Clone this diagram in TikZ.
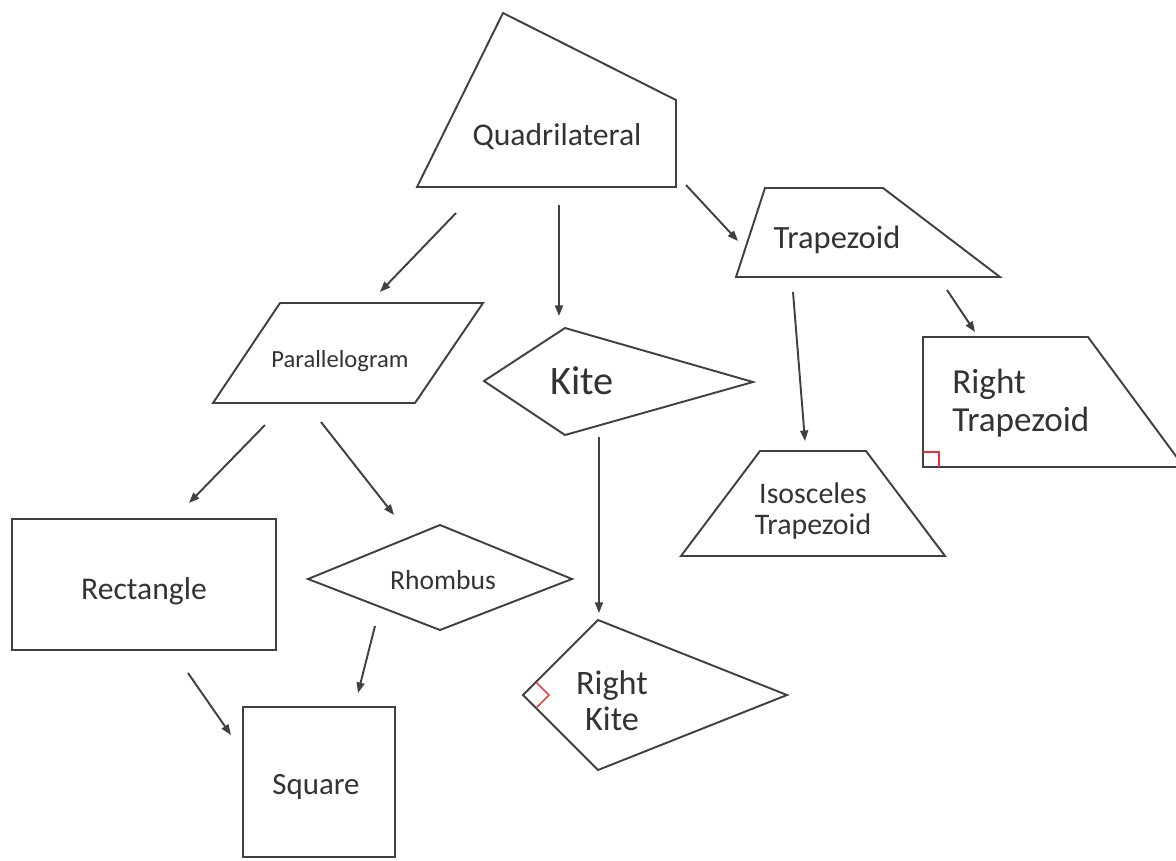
\documentclass[tikz,border=0pt]{standalone}
\usepackage{fontspec}
\setmainfont{Carlito}
\usetikzlibrary{arrows.meta}
\definecolor{shapegray}{HTML}{404040}
\definecolor{textgray}{HTML}{333333}
\definecolor{anglered}{HTML}{F03030}
\begin{document}
\begin{tikzpicture}[x=0.02cm,y=-0.02cm,
  figure/.style={draw=shapegray, line width=1.1pt, line join=miter},
  thickfig/.style={draw=shapegray, line width=1.5pt},
  link/.style={draw=shapegray, line width=1.1pt, -{Triangle[length=6pt,width=4.5pt]}},
  lbl/.style={text=textgray, inner sep=0pt, align=center},
  rightangle/.style={draw=anglered, line width=0.8pt}]
\useasboundingbox (0,0) rectangle (1176,860);
% shapes
\draw[figure] (503,13) -- (676,100) -- (676,187) -- (417,187) -- cycle;
\draw[figure] (765,188) -- (883,188) -- (1000,277) -- (736,277) -- cycle;
\draw[figure] (923,337) -- (1088,337) -- (1184,467) -- (923,467) -- cycle;
\draw[rightangle] (923,452) -- (939,452) -- (939,467);
\draw[figure] (280,303) -- (483,303) -- (415,403) -- (213,403) -- cycle;
\draw[figure] (484,381) -- (565,328) -- (753,382) -- (565,435) -- cycle;
\draw[thickfig] (12,519) rectangle (276,650);
\draw[figure] (308,579) -- (440,525) -- (572,579) -- (440,630) -- cycle;
\draw[figure] (598,620) -- (787,695) -- (598,770) -- (523,695) -- cycle;
\draw[rightangle] (536,682) -- (549,695) -- (536,708);
\draw[figure] (760,451) -- (866,451) -- (945,556) -- (681,556) -- cycle;
\draw[figure] (243,707) rectangle (395,857);
% labels
\node[lbl, font=\fontsize{18}{21}\selectfont] (quad) at (557,137) {Quadrilateral};
\node[lbl, font=\fontsize{18.5}{21}\selectfont] (trap) at (837,240) {Trapezoid};
\node[lbl, font=\fontsize{20}{21.5}\selectfont, align=left, anchor=west] (rtrap) at (952,403) {Right\\Trapezoid};
\node[lbl, font=\fontsize{14}{17}\selectfont] (para) at (340,361) {Parallelogram};
\node[lbl, font=\fontsize{23}{26}\selectfont] (kite) at (582,381) {Kite};
\node[lbl, font=\fontsize{18}{21}\selectfont] (rect) at (144,591) {Rectangle};
\node[lbl, font=\fontsize{15.7}{19}\selectfont] (rhomb) at (443,580) {Rhombus};
\node[lbl, font=\fontsize{19.5}{20.4}\selectfont] (rkite) at (612,701) {Right\\Kite};
\node[lbl, font=\fontsize{17}{18.1}\selectfont] (isos) at (813,511) {Isosceles\\Trapezoid};
\node[lbl, font=\fontsize{17.6}{21}\selectfont] (square) at (316,787) {Square};
% connector end points
\coordinate (qa) at (456,213); \coordinate (pa) at (380,292);
\coordinate (qb) at (559,205); \coordinate (ka) at (559,316);
\coordinate (qc) at (686,185); \coordinate (ta) at (738,241);
\coordinate (tb) at (793,292); \coordinate (ia) at (805,441);
\coordinate (tc) at (947,290); \coordinate (ra) at (975,332);
\coordinate (pb) at (265,425); \coordinate (rc) at (189,503);
\coordinate (pc) at (321,422); \coordinate (rh) at (394,515);
\coordinate (kb) at (599,437); \coordinate (rk) at (599,613);
\coordinate (rb) at (375,626); \coordinate (sa) at (358,693);
\coordinate (rd) at (188,673); \coordinate (sb) at (231,735);
% connectors
\draw[link] (qa) -- (pa);
\draw[link] (qb) -- (ka);
\draw[link] (qc) -- (ta);
\draw[link] (tb) -- (ia);
\draw[link] (tc) -- (ra);
\draw[link] (pb) -- (rc);
\draw[link] (pc) -- (rh);
\draw[link] (kb) -- (rk);
\draw[link] (rb) -- (sa);
\draw[link] (rd) -- (sb);
\end{tikzpicture}
\end{document}
